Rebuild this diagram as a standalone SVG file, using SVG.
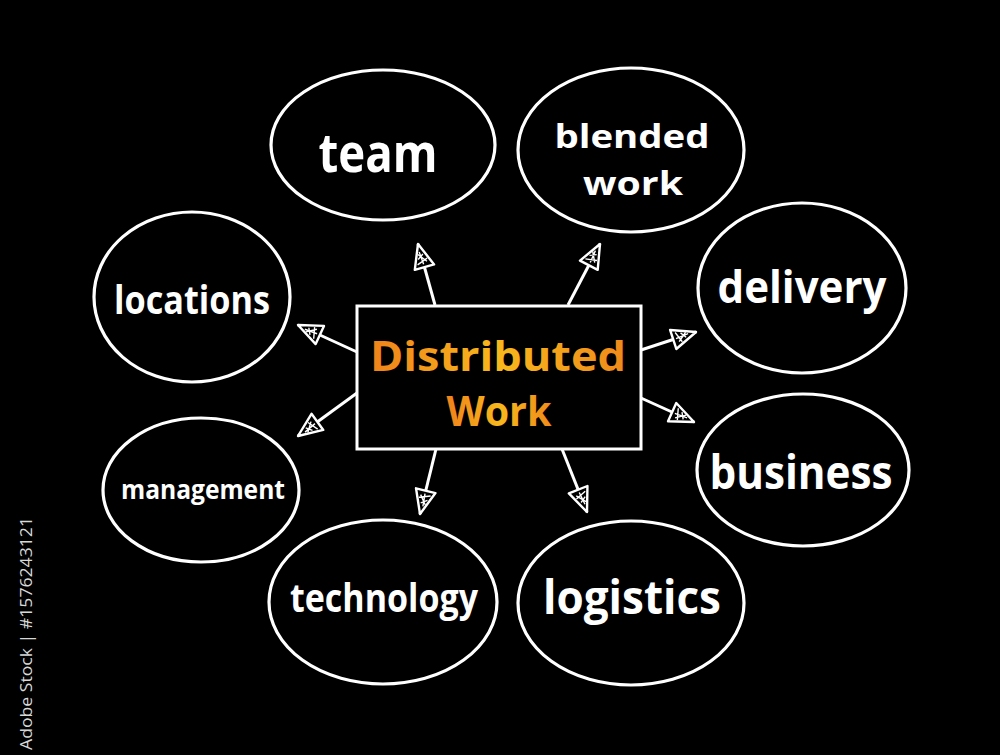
<svg xmlns="http://www.w3.org/2000/svg" width="1000" height="755" viewBox="0 0 1000 755">
<defs>
<linearGradient id="og" x1="0" y1="0" x2="1" y2="0">
<stop offset="0" stop-color="#f0821a"/>
<stop offset="0.5" stop-color="#f7b81c"/>
<stop offset="1" stop-color="#f08a1a"/>
</linearGradient>
<marker id="ah" viewBox="0 0 28 24" refX="26" refY="12" markerWidth="28" markerHeight="24" markerUnits="userSpaceOnUse" orient="auto">
<path d="M2 2 L26 12 L2 22 Z" fill="#000" stroke="#fff" stroke-width="2.4" stroke-linejoin="round"/>
<path d="M6 6 L10 17 M11 8 L15 14 M5 12 L18 11 M7 16 L16 9" stroke="#fff" stroke-width="1.4" fill="none"/>
</marker>
</defs>
<style>
.bub{fill:#000;stroke:#fff;stroke-width:3.2}
.lbl{fill:#fff;font-family:"Open Sans","Noto Sans",sans-serif;font-weight:700;text-anchor:middle}
.ctr{fill:url(#og);font-family:"Open Sans","Noto Sans",sans-serif;font-weight:700;text-anchor:middle}
.con{stroke:#fff;stroke-width:3;fill:none;marker-end:url(#ah)}
</style>
<rect width="1000" height="755" fill="#000"/>
<text transform="translate(32,750) rotate(-90)" fill="#d8d8d8" font-family="Open Sans, sans-serif" font-size="16" textLength="233" lengthAdjust="spacingAndGlyphs">Adobe Stock | #1576243121</text>
<g id="connectors">
<line class="con" x1="435" y1="305" x2="418" y2="244"/>
<line class="con" x1="568" y1="305" x2="600" y2="244"/>
<line class="con" x1="357" y1="352" x2="298" y2="325"/>
<line class="con" x1="357" y1="393" x2="298" y2="436"/>
<line class="con" x1="641" y1="350" x2="696" y2="332"/>
<line class="con" x1="641" y1="398" x2="694" y2="422"/>
<line class="con" x1="436" y1="449" x2="420" y2="514"/>
<line class="con" x1="562" y1="449" x2="587" y2="512"/>
</g>
<g id="center">
<rect x="357" y="306" width="284" height="143" fill="#000" stroke="#fff" stroke-width="3"/>
<text class="ctr" x="498" y="371" font-size="42" textLength="256" lengthAdjust="spacingAndGlyphs">Distributed</text>
<text class="ctr" x="499" y="426" font-size="42" textLength="105" lengthAdjust="spacingAndGlyphs">Work</text>
</g>
<g id="team">
<ellipse class="bub" cx="383" cy="145" rx="112" ry="75"/>
<text class="lbl" x="378" y="172" font-size="54" textLength="119" lengthAdjust="spacingAndGlyphs">team</text>
</g>
<g id="blended">
<ellipse class="bub" cx="631" cy="150" rx="113" ry="82"/>
<text class="lbl" x="632" y="148" font-size="33" textLength="155" lengthAdjust="spacingAndGlyphs">blended</text>
<text class="lbl" x="633" y="195" font-size="33" textLength="100" lengthAdjust="spacingAndGlyphs">work</text>
</g>
<g id="locations">
<ellipse class="bub" cx="192" cy="297" rx="98" ry="85"/>
<text class="lbl" x="192" y="314" font-size="40" textLength="156" lengthAdjust="spacingAndGlyphs">locations</text>
</g>
<g id="delivery">
<ellipse class="bub" cx="802" cy="288" rx="104" ry="85"/>
<text class="lbl" x="802" y="303" font-size="44" textLength="169" lengthAdjust="spacingAndGlyphs">delivery</text>
</g>
<g id="management">
<ellipse class="bub" cx="201" cy="490" rx="98" ry="72"/>
<text class="lbl" x="203" y="499" font-size="26" textLength="164" lengthAdjust="spacingAndGlyphs">management</text>
</g>
<g id="business">
<ellipse class="bub" cx="803" cy="470" rx="106" ry="76"/>
<text class="lbl" x="801" y="489" font-size="46" textLength="183" lengthAdjust="spacingAndGlyphs">business</text>
</g>
<g id="technology">
<ellipse class="bub" cx="383" cy="602" rx="114" ry="82"/>
<text class="lbl" x="384" y="612" font-size="40" textLength="188" lengthAdjust="spacingAndGlyphs">technology</text>
</g>
<g id="logistics">
<ellipse class="bub" cx="631" cy="603" rx="113" ry="82"/>
<text class="lbl" x="632" y="614" font-size="46" textLength="178" lengthAdjust="spacingAndGlyphs">logistics</text>
</g>
</svg>
